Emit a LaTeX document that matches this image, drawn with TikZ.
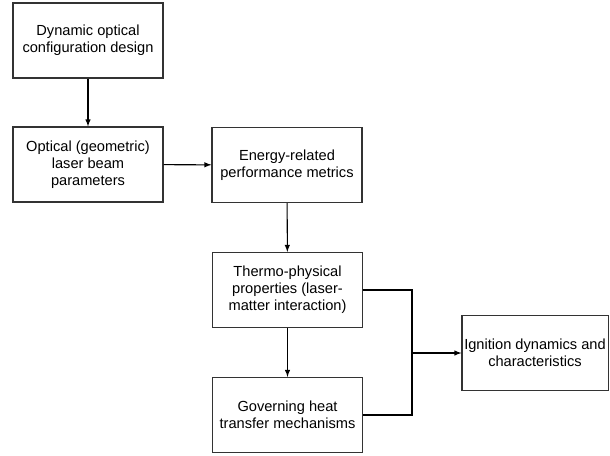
\documentclass[tikz,border=0pt]{standalone}
\usepackage{fontspec}
\setmainfont{Liberation Sans}
\usetikzlibrary{positioning}

\begin{document}
\begin{tikzpicture}[x=0.025cm, y=-0.025cm]
\tikzstyle{main}=[rectangle, draw=black!80, line width=0.75pt, minimum width=3.75cm, minimum height=1.875cm, align=center, inner sep=1mm, font=\fontsize{10.4}{12.2}\selectfont]
\tikzstyle{connect}=[-latex, line width=0.75pt]
\useasboundingbox (0,0) rectangle (610,455);

\node[main] at (88,40.5) (design) {Dynamic optical\\configuration design};
\node[main] at (88,164.5) (beam) {Optical (geometric)\\laser beam\\parameters};
\node[main] at (287,165) (energy) {Energy-related\\performance metrics};
\node[main] at (287.5,290) (thermo) {Thermo-physical\\properties (laser-\\matter interaction)};
\node[main] at (287.5,415) (heat) {Governing heat\\transfer mechanisms};
\node[main, minimum width=3.65cm, inner sep=0.5mm] at (535,353) (ignition) {Ignition dynamics and\\characteristics};
\coordinate (join) at (412,353);

\path (design) edge [connect] (beam);
\path (beam) edge [connect] (energy);
\path (energy) edge [connect] (thermo);
\path (thermo) edge [connect] (heat);
\draw[line width=0.75pt] (thermo.east) -| (join);
\draw[line width=0.75pt] (heat.east) -| (join);
\path (join) edge [connect] (ignition.west);
\end{tikzpicture}
\end{document}
